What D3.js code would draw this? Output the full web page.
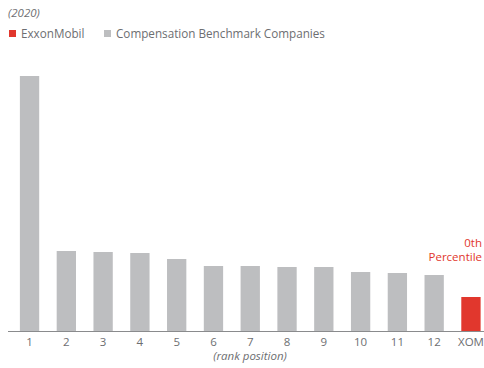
<!DOCTYPE html>
<html>
<head>
<meta charset="utf-8">
<script src="https://cdn.jsdelivr.net/npm/d3@7"></script>
<style>
  body { margin: 0; background: #fff; }
  text { font-family: "Open Sans", sans-serif; }
</style>
</head>
<body>
<svg width="484" height="368"></svg>
<script>
// rank categories and values (relative)
const ranks = ["1", "2", "3", "4", "5", "6", "7", "8", "9", "10", "11", "12", "XOM"];
const values = [255, 80, 79, 78, 72, 65, 65, 64, 64, 59, 58, 56, 34];
const legendLabels = ["ExxonMobil", "Compensation Benchmark Companies"];

const red = "#e1372d";
const grey = "#bdbec0";
const textGrey = "#6d6e71";

const svg = d3.select("svg");
const baseY = 331;

const x = d3.scaleBand()
  .domain(ranks)
  .range([1.5, 499])
  .paddingInner(0.475)
  .paddingOuter(0.5);

const y = d3.scaleLinear()
  .domain([0, 255])
  .range([baseY, 76]);

// bars
svg.selectAll(".bar")
  .data(ranks)
  .enter()
  .append("rect")
  .attr("class", "bar")
  .attr("x", d => x(d))
  .attr("width", x.bandwidth())
  .attr("y", (d, i) => y(values[i]))
  .attr("height", (d, i) => baseY - y(values[i]))
  .attr("fill", d => d === "XOM" ? red : grey);

// x axis
const xAxis = svg.append("g")
  .attr("transform", `translate(0,${baseY})`)
  .call(d3.axisBottom(x).tickSize(0).tickPadding(7));
xAxis.select(".domain").attr("stroke", "#8a8b8d").attr("d", "M8,0.5H484");
xAxis.selectAll("text")
  .attr("fill", textGrey)
  .style("font-size", "11.5px")
  .style("font-family", "'Open Sans', sans-serif");

// axis title
svg.append("text")
  .attr("x", 250)
  .attr("y", 360)
  .attr("text-anchor", "middle")
  .attr("fill", textGrey)
  .style("font-size", "11.5px")
  .style("font-style", "italic")
  .text("(rank position)");

// year
svg.append("text")
  .attr("x", 8)
  .attr("y", 17)
  .attr("fill", textGrey)
  .style("font-size", "11.5px")
  .style("font-style", "italic")
  .text("(2020)");

// legend
const legend = svg.append("g");
const legendX = [9, 104];
legendLabels.forEach((lab, i) => {
  legend.append("rect")
    .attr("x", legendX[i])
    .attr("y", 30)
    .attr("width", 7)
    .attr("height", 7)
    .attr("fill", i === 0 ? red : grey);
  legend.append("text")
    .attr("x", legendX[i] + 12)
    .attr("y", 38)
    .attr("fill", textGrey)
    .style("font-size", "11.7px")
    .text(lab);
});

// annotation
const note = svg.append("text")
  .attr("text-anchor", "end")
  .attr("fill", red)
  .style("font-size", "11.5px");
note.append("tspan").attr("x", 482).attr("y", 247).text("0th");
note.append("tspan").attr("x", 482).attr("y", 261).text("Percentile");
</script>
</body>
</html>
